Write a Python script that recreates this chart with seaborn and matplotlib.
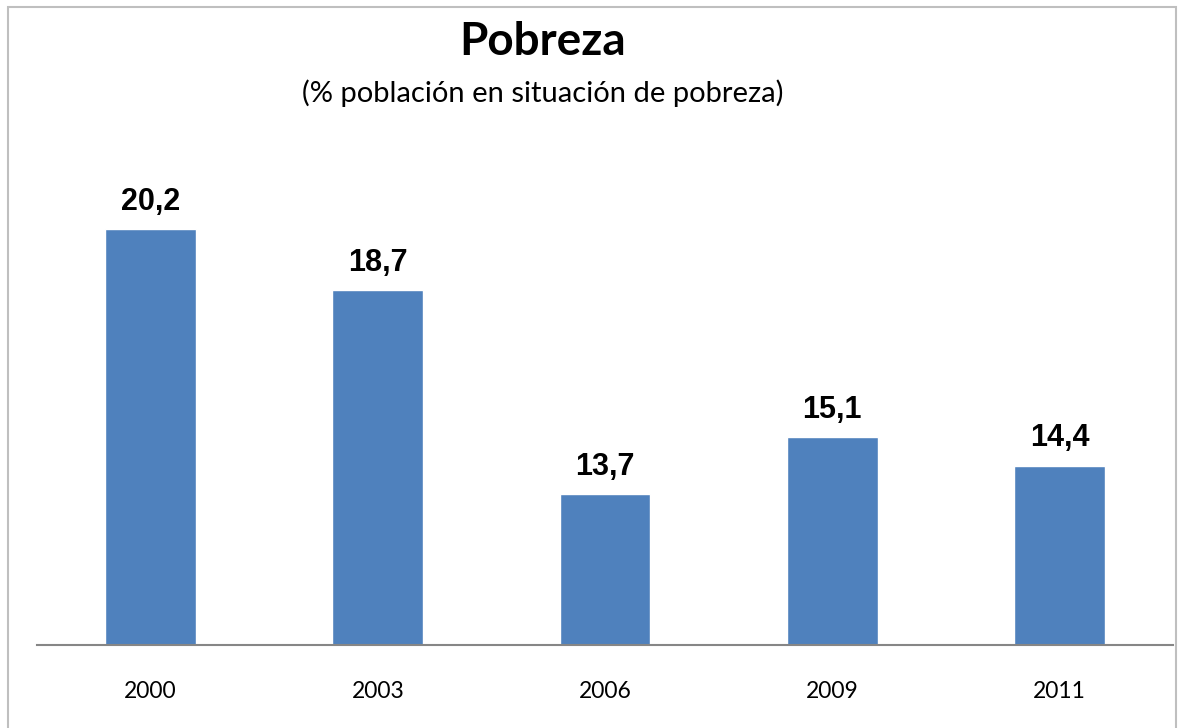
import matplotlib
matplotlib.use('Agg')
from matplotlib import pyplot as plt
from matplotlib.patches import Rectangle
import seaborn as sns
import pandas as pd

# data
years = ['2000', '2003', '2006', '2009', '2011']
pobreza = [20.2, 18.7, 13.7, 15.1, 14.4]

df = pd.DataFrame({'year': years, 'pobreza': pobreza})

sns.set_theme(style='white')
plt.rcParams['font.family'] = ['Lato', 'DejaVu Sans']
plt.rcParams['text.color'] = 'black'

fig = plt.figure(figsize=(11.84, 7.28), dpi=100)
ax = fig.add_axes([37 / 1184, (728 - 645) / 728, (1173 - 37) / 1184, (645 - 155.8) / 728])

sns.barplot(data=df, x='year', y='pobreza', order=years, color='#4F81BD',
            saturation=1, width=0.4, ax=ax)

ax.set_ylim(10, 22)
ax.set_xlim(-0.5, 4.5)
ax.set_xlabel('')
ax.set_ylabel('')
ax.set_yticks([])
for s in ['top', 'right', 'left']:
    ax.spines[s].set_visible(False)
ax.spines['bottom'].set_color('#868686')
ax.spines['bottom'].set_linewidth(1.5)
ax.tick_params(axis='x', length=0, pad=26, labelsize=16.5, labelcolor='black')

# data labels, comma as decimal sign
labels = [f'{v:.1f}'.replace('.', ',') for v in pobreza]
ax.bar_label(ax.containers[0], labels=labels, padding=9, color='black',
             fontsize=22, fontweight='bold', family='Liberation Sans')

fig.text(543 / 1184, 1 - 42 / 728, 'Pobreza', ha='center', va='center',
         fontsize=33, fontweight='bold', color='black')
fig.text(543 / 1184, 1 - 93 / 728, '(% población en situación de pobreza)',
         ha='center', va='center', fontsize=21, color='black')

# chart border
fig.add_artist(Rectangle((8 / 1184, -0.05), (1176 - 8) / 1184, 1.05 - 7 / 728,
                         transform=fig.transFigure, fill=False,
                         edgecolor='#BFBFBF', linewidth=1.5))

plt.savefig('out.png', dpi=100)
